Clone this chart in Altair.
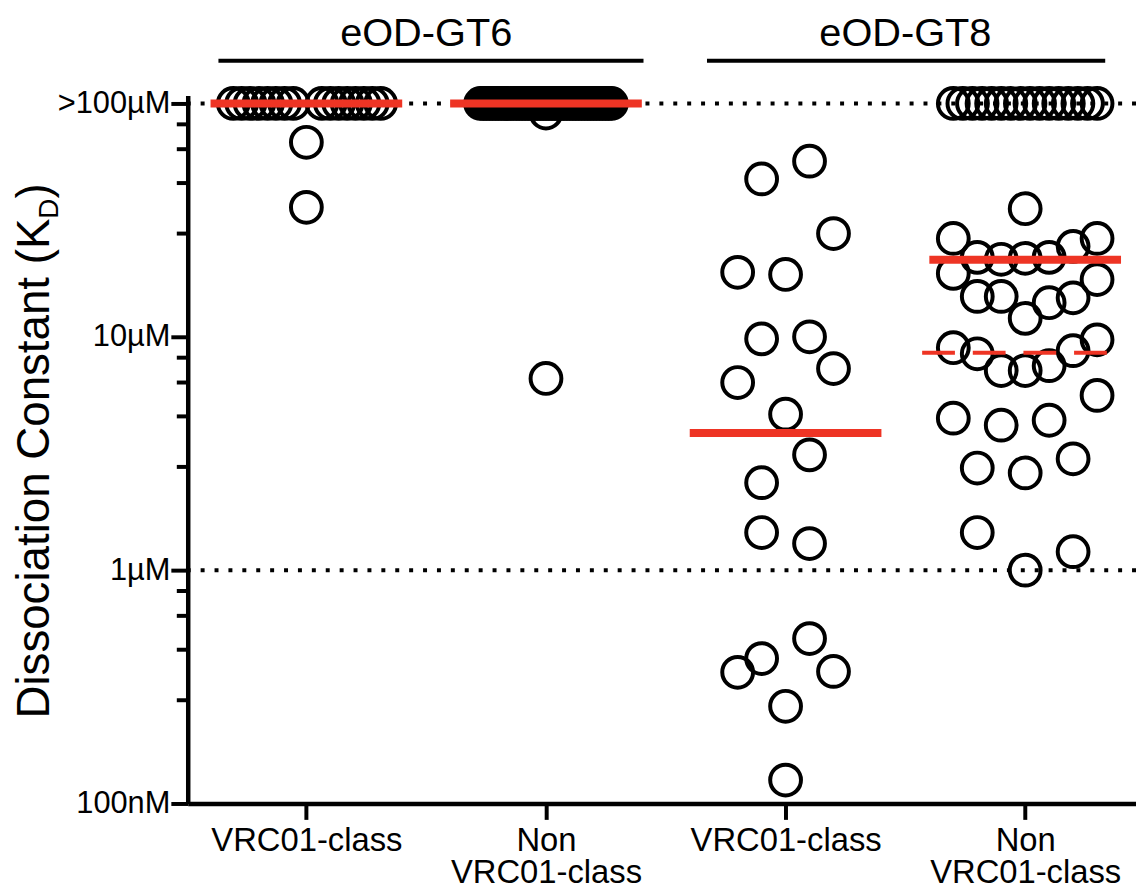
import altair as alt
import pandas as pd

# ---------------- data ----------------
antigens = ["eOD-GT6", "eOD-GT8"]
group_ids = [1, 2, 3, 4]

# group 1: eOD-GT6, VRC01-class  (column offsets of the beeswarm, K_D in µM)
g1_cols = [-3.05, -2.7, -2.35, -1.98, -1.62, -1.27, -0.91, -0.55,
           0.65, 1.0, 1.35, 1.7, 2.05, 2.4, 2.75, 3.1, 0, 0]
g1_vals = [100, 100, 100, 100, 100, 100, 100, 100,
           100, 100, 100, 100, 100, 100, 100, 100, 68.2, 35.9]

# group 2: eOD-GT6, Non VRC01-class
g2_cols = [-2.73, -2.61, -2.48, -2.36, -2.23, -2.11, -1.98, -1.86, -1.74, -1.61,
           -1.49, -1.36, -1.24, -1.12, -0.99, -0.87, -0.74, -0.62, -0.50, -0.37,
           -0.25, -0.12, 0.0, 0.12, 0.25, 0.37, 0.50, 0.62, 0.74, 0.87,
           0.99, 1.12, 1.24, 1.36, 1.49, 1.61, 1.74, 1.86, 1.98, 2.11,
           2.23, 2.36, 2.48, 2.61, 2.73, 0, 0]
g2_vals = [100, 100, 100, 100, 100, 100, 100, 100, 100, 100,
           100, 100, 100, 100, 100, 100, 100, 100, 100, 100,
           100, 100, 100, 100, 100, 100, 100, 100, 100, 100,
           100, 100, 100, 100, 100, 100, 100, 100, 100, 100,
           100, 100, 100, 100, 100, 91.0, 6.63]

# group 3: eOD-GT8, VRC01-class
g3_cols = [1, -1, 2, -2, 0, -1, 1, 2, -2, 0, 1, -1, -1, 1, 1, -1, -2, 2, 0, 0]
g3_vals = [56.6, 47.5, 27.7, 18.9, 18.5, 9.8, 10.0, 7.31, 6.37, 4.66,
           3.12, 2.37, 1.45, 1.30, 0.509, 0.418, 0.365, 0.368, 0.261, 0.126]

# group 4: eOD-GT8, Non VRC01-class
g4_cols = [-3.0, -2.6, -2.2, -1.8, -1.4, -1.0, -0.6, -0.2, 0.2, 0.6, 1.0, 1.4, 1.8, 2.2, 2.6, 3.0,
           0, -3, 3, 2, -2, -1, 0, 1, -3, 3, -2, -1, 1, 2, 0,
           -3, -2, 2, 3, -1, 0, 1, 3, -3, -1, 1, -2, 0, 2, -2, 0, 2]
g4_vals = [100, 100, 100, 100, 100, 100, 100, 100, 100, 100, 100, 100, 100, 100, 100, 100,
           35.4, 26.4, 26.4, 24.4, 21.9, 21.5, 21.7, 21.9, 18.7, 17.6, 14.9, 14.9, 14.0, 14.7, 12.0,
           8.98, 8.46, 8.72, 9.71, 7.17, 7.17, 7.52, 5.61, 4.48, 4.18, 4.39, 2.74, 2.61, 3.00,
           1.45, 1.00, 1.20]

# red summary lines
median_vals = [100, 100, 3.87, 21.4]
dashed_group = [4]
dashed_vals = [8.55]

# reference (dotted) lines
ref_vals = [100, 1]

# y axis ticks
major_ticks = [0.1, 1, 10, 100]
minor_ticks = [81.4, 63.7, 45.6, 27.7, 8.14, 6.37, 4.56, 2.77, 0.814, 0.637, 0.456, 0.277]

# ---------------- layout / style ----------------
W, H = 955, 713
XDOM = [0.5048, 4.4625]
YDOM = [0.1, 108.2]
COL = 0.1  # beeswarm column width in group units
FONT = "Liberation Sans"
RED = "#EE3424"

rows = []
for g, cols, vals in [(1, g1_cols, g1_vals), (2, g2_cols, g2_vals),
                      (3, g3_cols, g3_vals), (4, g4_cols, g4_vals)]:
    for c, v in zip(cols, vals):
        rows.append({"g": g, "x": g + c * COL, "v": v})
pts = pd.DataFrame(rows)

xs = alt.Scale(domain=XDOM, nice=False, zero=False)
ys = alt.Scale(type="log", domain=YDOM, nice=False)

x_axis = alt.Axis(
    values=group_ids, title=None, grid=False,
    labelExpr="(datum.value == 1 || datum.value == 3) ? 'VRC01-class' : ['Non', 'VRC01-class']",
    domainColor="black", domainWidth=4.5, tickColor="black", tickWidth=4, tickSize=16,
    labelFont=FONT, labelFontSize=33, labelColor="black", labelPadding=5,
    labelLineHeight=33, labelAngle=0, labelBaseline="top", labelAlign="center",
    labelFlush=False, labelOverlap=False, labelBound=False, labelLimit=0,
)
y_axis = alt.Axis(
    values=major_ticks, title=None, grid=False,
    labelExpr="datum.value > 50 ? '>100µM' : datum.value > 5 ? '10µM' : datum.value > 0.5 ? '1µM' : '100nM'",
    domainColor="black", domainWidth=4.5, tickColor="black", tickWidth=4, tickSize=17,
    labelFont=FONT, labelFontSize=31, labelColor="black", labelPadding=1,
    labelBaseline="middle", labelOverlap=False, labelFlush=False, labelBound=False,
    labelLimit=0,
)

points = alt.Chart(pts).mark_point(
    shape="circle", filled=False, size=961, strokeWidth=4, color="black", opacity=1
).encode(
    x=alt.X("x:Q", scale=xs, axis=x_axis),
    y=alt.Y("v:Q", scale=ys, axis=y_axis),
)

dotted = alt.Chart(pd.DataFrame({"v": ref_vals})).mark_rule(
    color="black", strokeWidth=4, strokeDash=[4, 10]
).encode(y=alt.Y("v:Q", scale=ys, axis=y_axis))

minor = alt.Chart(pd.DataFrame({"v": minor_ticks})).mark_rule(
    color="black", strokeWidth=4
).encode(
    y=alt.Y("v:Q", scale=ys, axis=y_axis),
    x=alt.value(-11), x2=alt.value(0),
)

med = pd.DataFrame({"g": group_ids, "v": median_vals})
red = alt.Chart(med).transform_calculate(
    xa="datum.g - 0.4", xb="datum.g + 0.4"
).mark_rule(color=RED, strokeWidth=8).encode(
    x=alt.X("xa:Q", scale=xs, axis=x_axis), x2="xb:Q",
    y=alt.Y("v:Q", scale=ys, axis=y_axis),
)

dash = alt.Chart(pd.DataFrame({"g": dashed_group, "v": dashed_vals})).transform_calculate(
    xa="datum.g - 0.43", xb="datum.g + 0.37"
).mark_rule(color=RED, strokeWidth=4, strokeDash=[33, 18]).encode(
    x=alt.X("xa:Q", scale=xs, axis=x_axis), x2="xb:Q",
    y=alt.Y("v:Q", scale=ys, axis=y_axis),
)

hdr = pd.DataFrame({"label": antigens, "c": [1.5, 3.5],
                    "s": [0.633, 2.672], "e": [2.407, 4.334]})
hdr_text = alt.Chart(hdr).mark_text(
    font=FONT, fontSize=40, color="black", align="center", baseline="alphabetic"
).encode(x=alt.X("c:Q", scale=xs, axis=x_axis), y=alt.value(-50), text="label:N")
hdr_line = alt.Chart(hdr).mark_rule(color="black", strokeWidth=4).encode(
    x=alt.X("s:Q", scale=xs, axis=x_axis), x2="e:Q", y=alt.value(-35)
)

one = pd.DataFrame({"a": [0]})
t_main = alt.Chart(one).mark_text(
    text="Dissociation Constant (K", font=FONT, fontSize=46, color="black",
    angle=270, align="right", baseline="alphabetic"
).encode(x=alt.value(-140), y=alt.value(124))
t_sub = alt.Chart(one).mark_text(
    text="D", font=FONT, fontSize=28, color="black",
    angle=270, align="left", baseline="alphabetic"
).encode(x=alt.value(-131), y=alt.value(124))
t_close = alt.Chart(one).mark_text(
    text=")", font=FONT, fontSize=46, color="black",
    angle=270, align="left", baseline="alphabetic"
).encode(x=alt.value(-140), y=alt.value(103.8))

chart = alt.layer(
    points, dotted, minor, red, dash, hdr_text, hdr_line, t_main, t_sub, t_close
).properties(
    width=W, height=H,
    autosize=alt.AutoSizeParams(type="none"),
    padding={"left": 181, "top": 85, "right": 0, "bottom": 84},
    background="white",
).configure_view(stroke=None)

chart.save("out.html", embed_options={"renderer": "svg", "actions": False})
